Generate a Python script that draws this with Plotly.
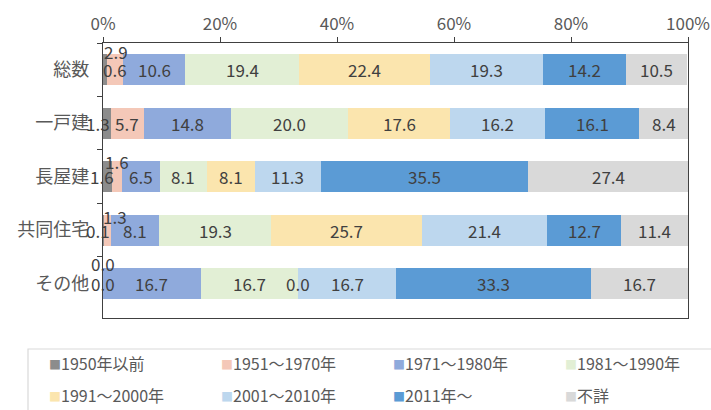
import plotly.graph_objects as go

# Building types (rows, top to bottom)
categories = ["総数", "一戸建", "長屋建", "共同住宅", "その他"]

# Construction period series (share of dwellings, %)
periods = ["1950年以前", "1951～1970年", "1971～1980年", "1981～1990年",
           "1991～2000年", "2001～2010年", "2011年～", "不詳"]

v_1950 = [0.6, 1.3, 1.6, 0.1, 0.0]
v_1951_1970 = [2.9, 5.7, 1.6, 1.3, 0.0]
v_1971_1980 = [10.6, 14.8, 6.5, 8.1, 16.7]
v_1981_1990 = [19.4, 20.0, 8.1, 19.3, 16.7]
v_1991_2000 = [22.4, 17.6, 8.1, 25.7, 0.0]
v_2001_2010 = [19.3, 16.2, 11.3, 21.4, 16.7]
v_2011 = [14.2, 16.1, 35.5, 12.7, 33.3]
v_unknown = [10.5, 8.4, 27.4, 11.4, 16.7]

series = [v_1950, v_1951_1970, v_1971_1980, v_1981_1990,
          v_1991_2000, v_2001_2010, v_2011, v_unknown]

colors = ["#8c8c8c", "#f4c8b8", "#8faadc", "#e2efd5",
          "#fbe5ae", "#bdd7ee", "#5b9bd5", "#d9d9d9"]

x_ticks = [0, 20, 40, 60, 80, 100]

# Pixel nudges for labels of very thin segments so they stay readable
label_nudge = {
    ("総数", "1950年以前"): (10, 0),
    ("総数", "1951～1970年"): (1, 18),
    ("一戸建", "1950年以前"): (-9, 0),
    ("長屋建", "1950年以前"): (-6, 0),
    ("長屋建", "1951～1970年"): (0, 15),
    ("共同住宅", "1950年以前"): (-5, 0),
    ("共同住宅", "1951～1970年"): (8, 14),
    ("その他", "1951～1970年"): (0, 20),
}

FONT = "Noto Sans CJK JP"
LABEL_COLOR = "#404040"
AXIS_TEXT = "#595959"
LINE_COLOR = "#404040"

fig = go.Figure()
for name, vals, col in zip(periods, series, colors):
    fig.add_trace(go.Bar(
        y=categories, x=vals, name=name, orientation="h",
        marker=dict(color=col, line=dict(width=0)),
        showlegend=False, hoverinfo="x+y+name",
    ))

# Value labels centred on each stacked segment
annotations = []
for ci, cat in enumerate(categories):
    start = 0.0
    for name, vals in zip(periods, series):
        v = vals[ci]
        dx, dy = label_nudge.get((cat, name), (0, 0))
        annotations.append(dict(
            x=start + v / 2, y=cat, xref="x", yref="y",
            text=f"{v:.1f}", showarrow=False,
            xshift=dx, yshift=dy,
            font=dict(family=FONT, size=17, color=LABEL_COLOR),
        ))
        start += v

# Plot area geometry (pixels) used to place the legend below it
W, H = 711, 410
ML, MR, MT, MB = 103, 23, 43, 92
PW, PH = W - ML - MR, H - MT - MB


def px_to_paper(px, py):
    return (px - ML) / PW, (H - MB - py) / PH


legend_cols = [47, 219, 391, 563]
legend_rows = [363, 395]
for i, (name, col) in enumerate(zip(periods, colors)):
    lx, ly = px_to_paper(legend_cols[i % 4], legend_rows[i // 4])
    annotations.append(dict(
        x=lx, y=ly, xref="paper", yref="paper",
        xanchor="left", yanchor="middle", showarrow=False,
        text=f"<span style='color:{col};font-size:12px'>■</span>{name}",
        font=dict(family=FONT, size=16, color=AXIS_TEXT),
    ))

bx0, by0 = px_to_paper(28, 349)
bx1, by1 = px_to_paper(730, 430)
shapes = [dict(type="rect", xref="paper", yref="paper",
               x0=bx0, y0=by0, x1=bx1, y1=by1,
               line=dict(color="#d9d9d9", width=1.2), fillcolor="rgba(0,0,0,0)")]

fig.update_layout(
    width=W, height=H,
    margin=dict(l=ML, r=MR, t=MT, b=MB, pad=0),
    barmode="stack", bargap=0.42,
    plot_bgcolor="white", paper_bgcolor="white",
    font=dict(family=FONT, color=AXIS_TEXT),
    annotations=annotations, shapes=shapes,
    xaxis=dict(
        side="top", range=[0, 100], tickvals=x_ticks,
        ticktext=[f"{t}%" for t in x_ticks],
        showgrid=False, zeroline=False, automargin=False,
        showline=True, mirror=True, linecolor=LINE_COLOR, linewidth=1.3,
        ticks="outside", ticklen=5, tickcolor=LINE_COLOR,
        tickfont=dict(family=FONT, size=17, color=AXIS_TEXT),
    ),
    yaxis=dict(
        autorange="reversed", type="category",
        showgrid=False, zeroline=False, automargin=False,
        showline=True, mirror=True, linecolor=LINE_COLOR, linewidth=1.3,
        ticks="outside", ticklen=5, tickcolor=LINE_COLOR,
        tickson="boundaries", ticklabelstandoff=9,
        tickfont=dict(family=FONT, size=18, color=AXIS_TEXT),
    ),
)

fig.write_html("out.html")
